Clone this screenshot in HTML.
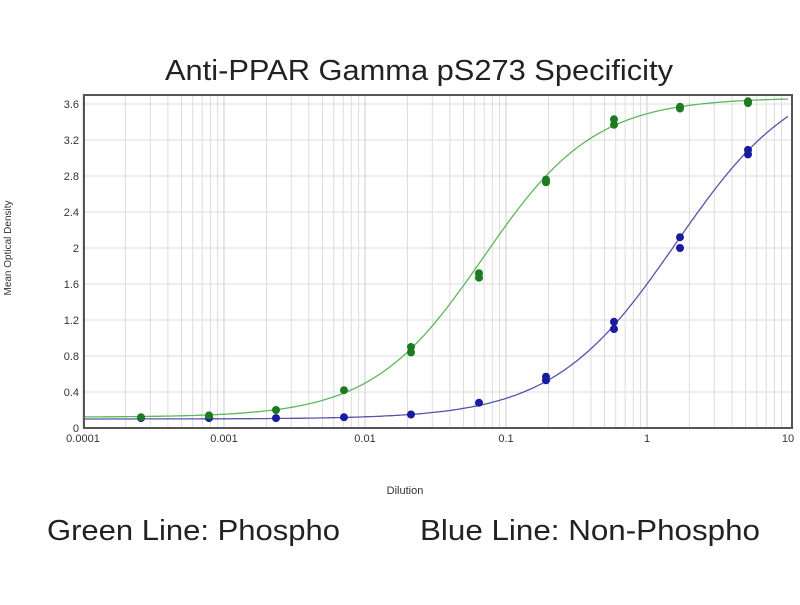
<!DOCTYPE html>
<html><head><meta charset="utf-8"><style>
body{margin:0;background:#fff;width:800px;height:600px;overflow:hidden;font-family:"Liberation Sans",sans-serif}
</style></head><body>
<svg id="s" width="800" height="600" xmlns="http://www.w3.org/2000/svg" font-family="Liberation Sans, sans-serif">
<text x="165" y="80" font-size="29" textLength="508" lengthAdjust="spacingAndGlyphs" fill="#222">Anti-PPAR Gamma pS273 Specificity</text>
<g id="grid"></g>
<g id="curves"></g>
<rect x="84" y="95" width="708" height="333" fill="none" stroke="#555" stroke-width="2"/>
<g font-size="11" fill="#333" id="ticks"></g>
<text transform="translate(11,248) rotate(-90)" font-size="10" text-anchor="middle" fill="#333">Mean Optical Density</text>
<text x="405" y="494" font-size="11" text-anchor="middle" fill="#333">Dilution</text>
<text x="47" y="540" font-size="29" textLength="293" lengthAdjust="spacingAndGlyphs" fill="#222">Green Line: Phospho</text>
<text x="420" y="540" font-size="29" textLength="340" lengthAdjust="spacingAndGlyphs" fill="#222">Blue Line: Non-Phospho</text>
</svg>
<script>
const NS="http://www.w3.org/2000/svg";
const X=v=>83+141*(Math.log10(v)+4), Y=v=>428-v*90;
function el(p,t,a,txt){const e=document.createElementNS(NS,t);for(const k in a)e.setAttribute(k,a[k]);if(txt!==undefined)e.textContent=txt;document.getElementById(p).appendChild(e);return e;}
for(let d=-4;d<1;d++)for(let m=1;m<10;m++){const x=X(m*Math.pow(10,d));if(x>792)continue;el("grid","line",{x1:x,x2:x,y1:95,y2:428,stroke:m==1?"#ccc":"#ddd","stroke-width":1});}
for(let i=1;i<=9;i++){const y=Y(i*0.4);el("grid","line",{x1:84,x2:792,y1:y,y2:y,stroke:"#ddd"});el("ticks","text",{x:79,y:y+4,"text-anchor":"end"},(i*0.4).toFixed(1).replace(/\.0$/,""));}
el("ticks","text",{x:79,y:432,"text-anchor":"end"},"0");
["0.0001","0.001","0.01","0.1","1","10"].forEach((t,i)=>el("ticks","text",{x:X(+t),y:442,"text-anchor":"middle"},t));
function curve(b,t,c,h,col){let d="";for(let i=0;i<=300;i++){const lx=-4+5*i/300,x=Math.pow(10,lx);const v=b+(t-b)/(1+Math.pow(c/x,h));d+=(i?"L":"M")+X(x).toFixed(1)+","+Y(v).toFixed(1);}el("curves","path",{d:d,fill:"none",stroke:col,"stroke-width":1.3});}
curve(0.12,3.67,0.069,1.1,"#5cb85c");
curve(0.1,4.0,1.6,1.0,"#5555aa");
const xs=[141,209,276,344,411,479,546,614,680,748];
const g=[[0.12],[0.14],[0.2],[0.42],[0.9,0.84],[1.72,1.67],[2.76,2.73],[3.43,3.37],[3.57,3.55],[3.63,3.61]];
const b=[[0.11],[0.11],[0.11],[0.12],[0.15],[0.28],[0.57,0.53],[1.18,1.1],[2.12,2.0],[3.09,3.04]];
b.forEach((a,i)=>a.forEach(v=>el("curves","circle",{cx:xs[i],cy:Y(v),r:4,fill:"#1a1aa0"})));
g.forEach((a,i)=>a.forEach(v=>el("curves","circle",{cx:xs[i],cy:Y(v),r:4,fill:"#1e7a1e"})));
</script>
</body></html>
